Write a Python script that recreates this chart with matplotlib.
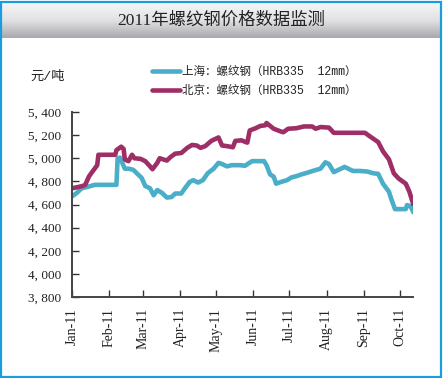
import numpy as np
import matplotlib
matplotlib.use('Agg')
import matplotlib.pyplot as plt
import matplotlib.dates as mdates
from matplotlib.patches import Rectangle

# days since 2011-01-01 and price (yuan / ton)
bj_days = [0, 9, 11, 14, 16, 21, 22, 36, 37, 41, 43, 44, 47, 50, 52, 57, 61, 65, 67, 71,
           73, 79, 82, 86, 91, 96, 100, 104, 107, 111, 116, 122, 125, 129, 134, 136, 141,
           146, 148, 153, 157, 161, 162, 168, 173, 176, 180, 187, 193, 200, 203, 207, 214,
           218, 244, 248, 255, 259, 264, 268, 272, 278, 281, 284]
bj_price = [4740, 4760, 4770, 4840, 4870, 4940, 5030, 5030, 5070, 5100, 5080, 4990, 4975,
            5030, 5000, 4995, 4975, 4930, 4905, 4960, 5000, 4980, 5010, 5040, 5045, 5090,
            5115, 5110, 5090, 5105, 5150, 5180, 5110, 5105, 5095, 5150, 5155, 5135, 5240,
            5260, 5280, 5285, 5305, 5255, 5235, 5225, 5255, 5260, 5275, 5275, 5255, 5270,
            5265, 5220, 5220, 5190, 5140, 5060, 4990, 4870, 4825, 4780, 4710, 4610]

sh_days = [0, 4, 8, 12, 19, 37, 38, 40, 44, 47, 51, 54, 58, 61, 65, 68, 71, 75, 79, 83,
           86, 91, 94, 98, 101, 105, 109, 113, 118, 122, 125, 129, 133, 140, 144, 147, 150,
           160, 162, 165, 168, 170, 174, 179, 183, 187, 191, 196, 202, 207, 211, 214, 218,
           222, 227, 230, 234, 240, 246, 251, 255, 259, 264, 266, 269, 278, 279, 282, 284]
sh_price = [4670, 4700, 4740, 4750, 4770, 4770, 5000, 5005, 4910, 4910, 4900, 4870, 4830,
            4760, 4740, 4680, 4725, 4700, 4660, 4665, 4695, 4695, 4740, 4795, 4810, 4790,
            4810, 4870, 4910, 4960, 4950, 4930, 4940, 4940, 4935, 4955, 4975, 4975, 4940,
            4860, 4840, 4780, 4795, 4810, 4835, 4845, 4860, 4875, 4895, 4910, 4965, 4950,
            4880, 4900, 4925, 4910, 4890, 4890, 4885, 4870, 4865, 4780, 4710, 4645, 4560,
            4560, 4595, 4585, 4540]

months = ['2011-%02d-01' % m for m in range(1, 11)]
yticks = [3800, 4000, 4200, 4400, 4600, 4800, 5000, 5200, 5400]

title = '2011年螺纹钢价格数据监测'
unit = '元/吨'
sh_label = '上海：螺纹钢（HRB335  12mm）'
bj_label = '北京：螺纹钢（HRB335  12mm）'

serif = ['Liberation Serif', 'Noto Sans CJK SC']
mono = ['Liberation Mono', 'Noto Sans CJK SC']

W, H = 443, 378
fig = plt.figure(figsize=(W / 100, H / 100), dpi=100)
fig.patch.set_facecolor('white')

# title bar with gradient
tb = fig.add_axes([2 / W, 1 - 38 / H, 1 - 4 / W, 36 / H])
grad = np.linspace(0, 1, 100).reshape(-1, 1)
tb.imshow(grad, aspect='auto', cmap=matplotlib.colors.LinearSegmentedColormap.from_list(
    'g', ['#f7f7f7', '#e2e2e4', '#a9a9ad']), extent=[0, 1, 0, 1])
tb.axis('off')
fig.text(0.5, 1 - 21 / H, title, ha='center', va='center', fontsize=12.5,
         family=serif, color='#222222')

# blue frame
fig.patches.append(Rectangle((1 / W, 1 / H), 1 - 3 / W, 1 - 3 / H, transform=fig.transFigure,
                             fill=False, edgecolor='#1c9ce0', linewidth=1.6))

base = np.datetime64('2011-01-01')
bj_x = (base + np.array(bj_days)).astype('datetime64[D]').astype(object)
sh_x = (base + np.array(sh_days)).astype('datetime64[D]').astype(object)

ax = fig.add_axes([72 / W, 1 - 297 / H, 341 / W, 185 / H])
l1, = ax.plot(sh_x, sh_price, color='#4aaec8', lw=3.3, solid_joinstyle='round', label=sh_label)
l2, = ax.plot(bj_x, bj_price, color='#9e2f66', lw=3.3, solid_joinstyle='round', label=bj_label)

ax.set_ylim(3800, 5400)
ax.set_xlim(base.astype(object), (base + 284).astype(object))
ax.set_yticks(yticks)
ax.set_yticklabels(['{:,}'.format(v).replace(',', ', ') for v in yticks], family=serif,
                   fontsize=9.5, color='#222222')
ax.set_xticks([np.datetime64(m).astype(object) for m in months])
ax.xaxis.set_major_formatter(mdates.DateFormatter('%b-%y'))
for t in ax.get_xticklabels():
    t.set_rotation(90)
    t.set_family(serif)
    t.set_fontsize(10)
    t.set_color('#222222')
ax.tick_params(direction='in', length=5, width=1, color='#333333', pad=8)
ax.tick_params(axis='x', pad=8)
for s in ['top', 'right']:
    ax.spines[s].set_visible(False)
for s in ['left', 'bottom']:
    ax.spines[s].set_linewidth(1.4)
    ax.spines[s].set_color('#444444')
ax.set_facecolor('none')

fig.text(30 / W, 1 - 77 / H, unit, ha='left', va='center', fontsize=9.5, family=mono,
         color='#222222')

leg = fig.legend(handles=[l1, l2], loc='upper left', bbox_to_anchor=(142 / W, 1 - 56 / H),
                 frameon=False, handlelength=2.4, handletextpad=0.15, labelspacing=0.6,
                 prop={'family': mono, 'size': 8.3})
for h in leg.legend_handles:
    h.set_solid_capstyle('round')
for t in leg.get_texts():
    t.set_color('#222222')

fig.savefig('out.png', dpi=100)
